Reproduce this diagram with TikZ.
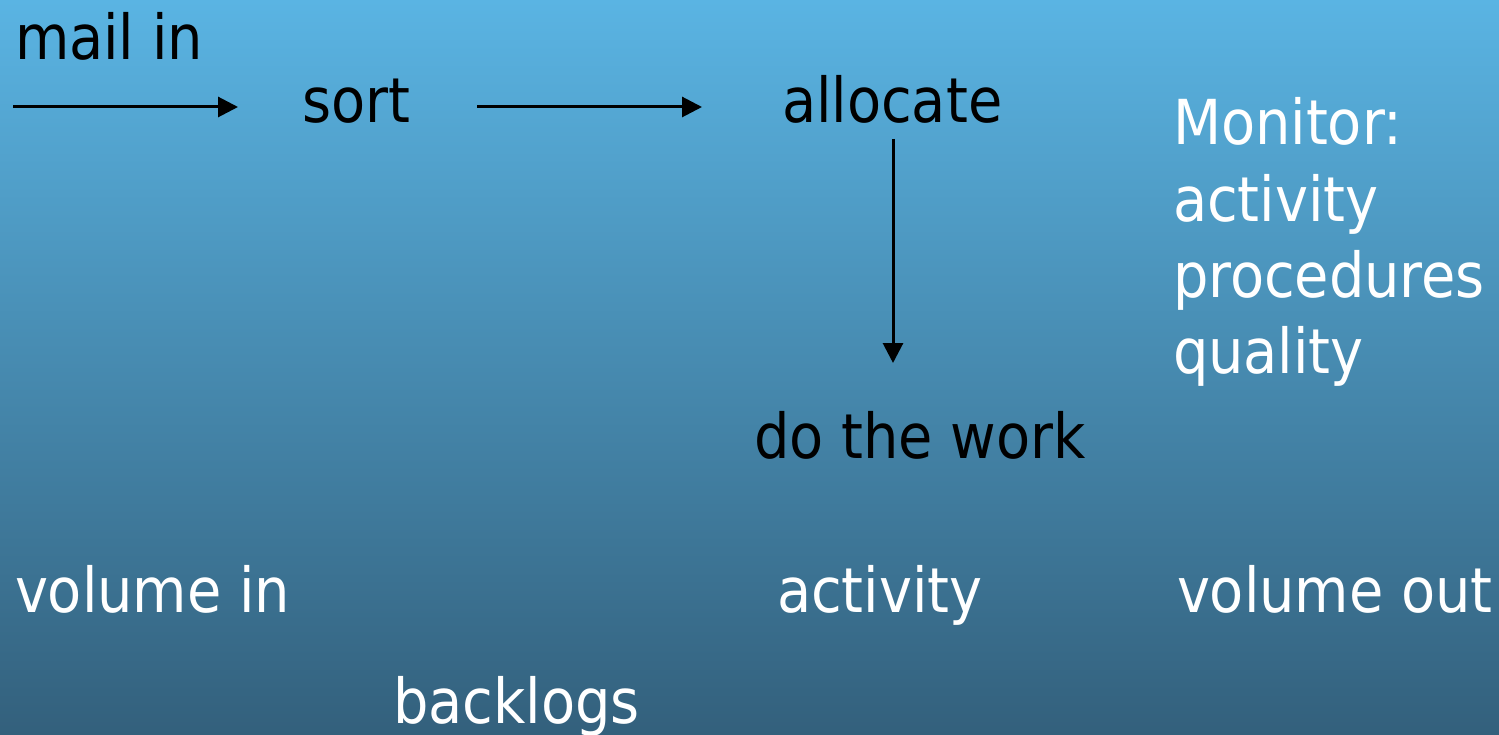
\documentclass[tikz,border=0pt]{standalone}
\usepackage{fontspec}
\setmainfont{DejaVu Sans Condensed}
\usetikzlibrary{arrows.meta}
\definecolor{bgtop}{HTML}{5AB4E3}
\definecolor{bgbot}{HTML}{33607C}
\tikzset{
  lbl/.style={anchor=base west, inner sep=0pt, outer sep=0pt, font=\fontsize{62}{76}\selectfont},
  dark/.style={lbl, text=black},
  light/.style={lbl, text=white, align=left},
  arr/.style={draw=black, line width=3pt, -{Triangle[length=20pt,width=20pt]}}
}
\begin{document}
\begin{tikzpicture}[x=1pt,y=-1pt]
\shade[top color=bgtop, bottom color=bgbot] (0,0) rectangle (1499,735);
\useasboundingbox (0,0) rectangle (1499,735);
\node[dark] (mailin) at (15,60) {mail in};
\node[dark] (sort) at (302,123) {sort};
\node[dark] (allocate) at (782,123) {allocate};
\node[dark] (work) at (754,458) {do the work};
\node[light] (monitor) at (1173,145) {Monitor:};
\node[light] (mact) at (1173,222) {activity};
\node[light] (mproc) at (1173,298) {procedures};
\node[light] (mqual) at (1173,373) {quality};
\node[light] (volin) at (15,612) {volume in};
\node[light] (act) at (777,612) {activity};
\node[light] (volout) at (1177,612) {volume out};
\node[light] (backlogs) at (393,723) {backlogs};
\coordinate (a1s) at (13,107);
\coordinate (a1e) at (238,107);
\coordinate (a2s) at (477,107);
\coordinate (a2e) at (702,107);
\coordinate (a3s) at (893,139);
\coordinate (a3e) at (893,363);
\draw[arr] (a1s) -- (a1e);
\draw[arr] (a2s) -- (a2e);
\draw[arr] (a3s) -- (a3e);
\end{tikzpicture}
\end{document}
